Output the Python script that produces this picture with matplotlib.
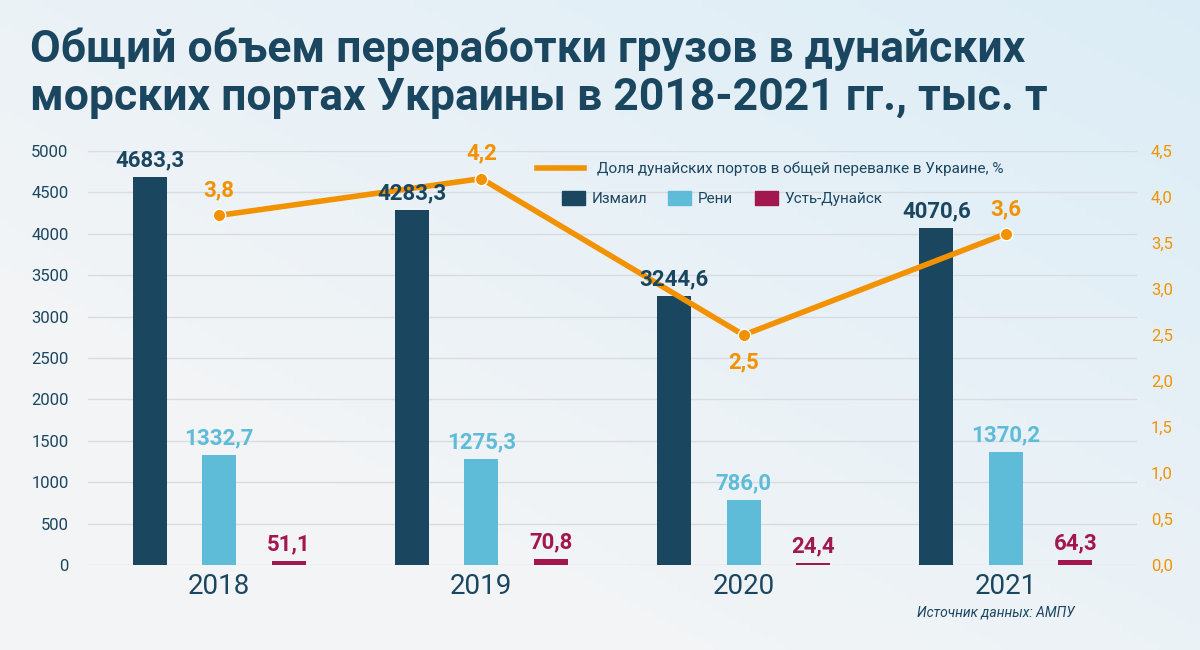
import numpy as np
import matplotlib.pyplot as plt
from matplotlib.lines import Line2D
from matplotlib.patches import Patch

plt.rcParams['font.family'] = ['Roboto', 'DejaVu Sans']

years = ['2018', '2019', '2020', '2021']
izmail = [4683.3, 4283.3, 3244.6, 4070.6]
reni = [1332.7, 1275.3, 786.0, 1370.2]
ust_dunaisk = [51.1, 70.8, 24.4, 64.3]
share_pct = [3.8, 4.2, 2.5, 3.6]

NAVY = '#1B4660'
LIGHT = '#5FBCD8'
CRIMSON = '#A3174F'
ORANGE = '#F39200'


def fmt(v):
    return f"{v:.1f}".replace('.', ',')


fig = plt.figure(figsize=(12, 6.5), dpi=100)

# background gradient: grey at bottom-left, pale blue at top-right
bg = fig.add_axes([0, 0, 1, 1], zorder=-10)
gx, gy = np.meshgrid(np.linspace(0, 1, 200), np.linspace(0, 1, 100))
t = np.clip(0.6 * gx + 0.6 * gy - 0.3, 0, 1)
c0 = np.array([0.955, 0.960, 0.965])
c1 = np.array([0.850, 0.925, 0.965])
img = c0[None, None, :] * (1 - t[..., None]) + c1[None, None, :] * t[..., None]
bg.imshow(img, origin='lower', aspect='auto', extent=[0, 1, 0, 1])
bg.axis('off')

ax = fig.add_axes([0.0733, 0.1308, 0.8742, 0.6369])
ax.patch.set_alpha(0)
x = np.arange(len(years))
w = 0.13
off = 0.265

b1 = ax.bar(x - off, izmail, w, color=NAVY, zorder=3)
b2 = ax.bar(x, reni, w, color=LIGHT, zorder=3)
b3 = ax.bar(x + off, ust_dunaisk, w, color=CRIMSON, zorder=3)

ax.set_xlim(-0.5, 3.5)
ax.set_ylim(0, 5000)
ax.set_yticks(np.arange(0, 5001, 500))
ax.set_xticks(x)
ax.set_xticklabels(years, fontsize=20, color=NAVY)
ax.tick_params(axis='x', length=0, pad=6)
ax.tick_params(axis='y', length=0, labelsize=12, labelcolor=NAVY, pad=14)
ax.grid(axis='y', color='#D8DCE0', lw=1, zorder=0)
for s in ax.spines.values():
    s.set_visible(False)

ax2 = ax.twinx()
ax2.set_ylim(0, 4.5)
ax2.set_yticks(np.arange(0, 4.51, 0.5))
ax2.set_yticklabels([fmt(v) for v in np.arange(0, 4.51, 0.5)])
ax2.tick_params(axis='y', length=0, labelsize=12, labelcolor=ORANGE, pad=10)
for s in ax2.spines.values():
    s.set_visible(False)
ax2.plot(x, share_pct, color=ORANGE, lw=4, marker='o', markersize=9,
         markeredgecolor='white', markeredgewidth=1, zorder=4)
for i, v in enumerate(share_pct):
    below = v == min(share_pct)
    ax2.annotate(fmt(v), (x[i], v), xytext=(0, -12 if below else 10),
                 textcoords='offset points', ha='center',
                 va='top' if below else 'bottom',
                 fontsize=16, fontweight='bold', color=ORANGE)

# bar value labels drawn on top of the line
for bars, vals, col in [(b1, izmail, NAVY), (b2, reni, LIGHT), (b3, ust_dunaisk, CRIMSON)]:
    for b, v in zip(bars, vals):
        ax2.annotate(fmt(v), (b.get_x() + b.get_width() / 2, v), xycoords=ax.transData,
                     xytext=(0, 4), textcoords='offset points', ha='center', va='bottom',
                     fontsize=16, fontweight='bold', color=col, zorder=6)

# legends
fig.legend(handles=[Line2D([], [], color=ORANGE, lw=4)],
           labels=['Доля дунайских портов в общей перевалке в Украине, %'],
           loc='upper left', bbox_to_anchor=(0.4475, 0.751), frameon=False,
           fontsize=11, handlelength=3.1, handletextpad=0.85,
           borderpad=0, borderaxespad=0, labelcolor=NAVY)
fig.legend(handles=[Patch(color=NAVY), Patch(color=LIGHT), Patch(color=CRIMSON)],
           labels=['Измаил', 'Рени', 'Усть-Дунайск'], ncol=3,
           loc='upper left', bbox_to_anchor=(0.468, 0.706), frameon=False,
           fontsize=11, handlelength=1.5, handleheight=1.05, handletextpad=0.45,
           columnspacing=1.4, borderpad=0, borderaxespad=0, labelcolor=NAVY)

fig.text(0.025, 0.958, 'Общий объем переработки грузов в дунайских\n'
         'морских портах Украины в 2018-2021 гг., тыс. т',
         ha='left', va='top', fontsize=32, fontweight='bold', color=NAVY,
         linespacing=1.2)
fig.text(0.764, 0.057, 'Источник данных: АМПУ', ha='left', va='center',
         fontsize=10, style='italic', color=NAVY)

fig.savefig('out.png', dpi=100)
